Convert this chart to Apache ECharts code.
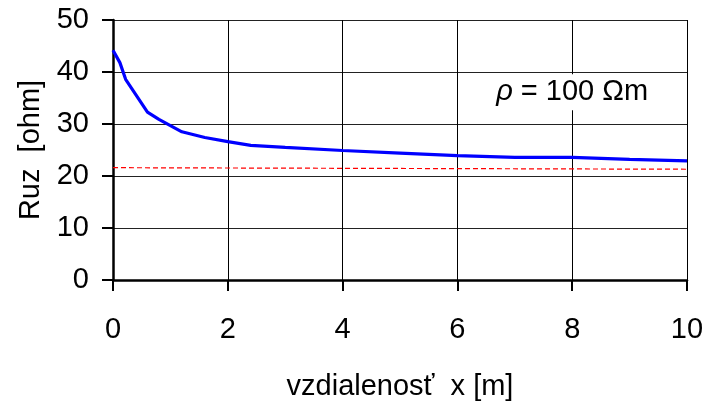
<!DOCTYPE html>
<html>
<head>
<meta charset="utf-8">
<script src="https://cdn.jsdelivr.net/npm/echarts@6/dist/echarts.min.js"></script>
<style>
html,body{margin:0;padding:0;background:#fff;}
#c{width:704px;height:401px;}
</style>
</head>
<body>
<div id="c"></div>
<script>
var xValues = [0, 0.12, 0.22, 0.6, 0.8, 1.2, 1.6, 2.0, 2.4, 3, 4, 5, 6, 7, 8, 9, 10];
var rValues = [44.2, 41.8, 38.6, 32.3, 30.9, 28.5, 27.4, 26.6, 25.9, 25.5, 24.9, 24.4, 23.9, 23.6, 23.6, 23.2, 22.9];
var refX = [0, 10];
var refValues = [21.6, 21.3];
var xTicks = [0, 2, 4, 6, 8, 10];
var yTicks = [0, 10, 20, 30, 40, 50];
var annotationText = ['ρ', '= 100 Ωm'];
var annotationAt = [8, 36.1];

var FONT = '"Liberation Sans", Arial, sans-serif';
var chart = echarts.init(document.getElementById('c'), null, {renderer: 'canvas'});

function pairs(xs, ys) { return xs.map(function (x, i) { return [x, ys[i]]; }); }

chart.setOption({
  backgroundColor: '#fff',
  animation: false,
  grid: {left: 113, right: 17, top: 20, bottom: 121, containLabel: false, outerBoundsMode: 'none'},
  xAxis: {
    type: 'value', min: xTicks[0], max: xTicks[xTicks.length - 1], interval: 2,
    name: 'vzdialenosť  x [m]', nameLocation: 'middle', nameGap: 92,
    nameTextStyle: {fontFamily: FONT, fontSize: 29, color: '#000'},
    axisLine: {show: true, onZero: false, lineStyle: {color: '#000', width: 2.5}},
    axisTick: {show: true, inside: false, length: 11, lineStyle: {color: '#000', width: 2}},
    axisLabel: {margin: 35, fontFamily: FONT, fontSize: 29, color: '#000'},
    splitLine: {show: true, lineStyle: {color: '#000', width: 1}}
  },
  yAxis: {
    type: 'value', min: yTicks[0], max: yTicks[yTicks.length - 1], interval: 10,
    name: 'Ruz  [ohm]', nameLocation: 'middle', nameGap: 68, nameRotate: 90,
    nameTextStyle: {fontFamily: FONT, fontSize: 29, color: '#000'},
    axisLine: {show: true, onZero: false, lineStyle: {color: '#000', width: 2.5}},
    axisTick: {show: true, inside: false, length: 11, lineStyle: {color: '#000', width: 2}},
    axisLabel: {margin: 24, fontFamily: FONT, fontSize: 29, color: '#000'},
    splitLine: {show: true, lineStyle: {color: '#222', width: 1}}
  },
  series: [
    {
      type: 'line', data: pairs(refX, refValues), symbol: 'none', silent: true,
      lineStyle: {color: '#ff0000', width: 1.2, type: [5, 3]}, z: 3
    },
    {
      type: 'line', data: pairs(xValues, rValues), symbol: 'none', silent: true,
      lineStyle: {color: '#0000ff', width: 3.2}, z: 4
    }
  ]
});

var p = chart.convertToPixel({gridIndex: 0}, annotationAt);
chart.setOption({
  graphic: [{
    type: 'text', x: p[0], y: p[1], z: 10,
    style: {
      text: '{a|' + annotationText[0] + '}{b|' + annotationText[1] + '}',
      align: 'center', verticalAlign: 'middle',
      backgroundColor: '#fff', padding: [3, 4, 3, 4],
      rich: {
        a: {fontFamily: FONT, fontStyle: 'italic', fontSize: 29, lineHeight: 30, fill: '#000', padding: [0, 8, 0, 0]},
        b: {fontFamily: FONT, fontSize: 29, lineHeight: 30, fill: '#000'}
      }
    }
  }]
});
</script>
</body>
</html>
